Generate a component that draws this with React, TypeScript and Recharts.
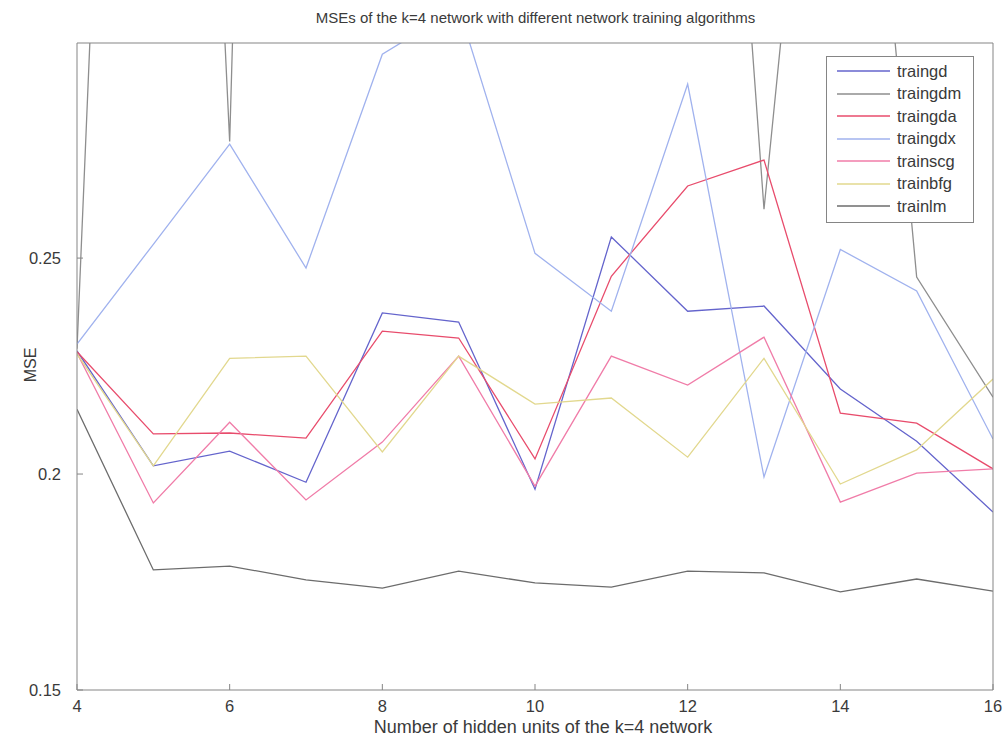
import React from "react";
import { LineChart, Line, XAxis, YAxis, Legend } from "recharts";

const hiddenUnits = [4, 5, 6, 7, 8, 9, 10, 11, 12, 13, 14, 15, 16];
const xTicks = [4, 6, 8, 10, 12, 14, 16];
const yTicks = [0.15, 0.2, 0.25];

const traingd = [0.2285, 0.2019, 0.2053, 0.1981, 0.2373, 0.2352, 0.1965, 0.2549, 0.2377, 0.2389, 0.2197, 0.2076, 0.1912];
const traingdm = [0.229, 0.65, 0.277, 0.9, 0.8, 0.7, 0.75, 0.6, 0.505, 0.2613, 0.438, 0.2456, 0.2178];
const traingda = [0.2283, 0.2093, 0.2095, 0.2083, 0.2331, 0.2315, 0.2035, 0.2458, 0.2667, 0.2727, 0.2141, 0.2118, 0.2012];
const traingdx = [0.2301, 0.2532, 0.2764, 0.2477, 0.2972, 0.308, 0.2511, 0.2377, 0.2903, 0.1993, 0.252, 0.2424, 0.2081];
const trainscg = [0.228, 0.1933, 0.212, 0.194, 0.2074, 0.2273, 0.1972, 0.2273, 0.2206, 0.2317, 0.1935, 0.2002, 0.2012];
const trainbfg = [0.2278, 0.2019, 0.2268, 0.2273, 0.2051, 0.2273, 0.2162, 0.2176, 0.2039, 0.2268, 0.1977, 0.2056, 0.222];
const trainlm = [0.215, 0.1778, 0.1787, 0.1755, 0.1736, 0.1775, 0.1748, 0.1738, 0.1775, 0.1771, 0.1727, 0.1757, 0.1729];

const seriesNames = ["traingd", "traingdm", "traingda", "traingdx", "trainscg", "trainbfg", "trainlm"];
const seriesValues = [traingd, traingdm, traingda, traingdx, trainscg, trainbfg, trainlm];
const seriesColors = ["#6464cc", "#8e8e8e", "#e84c6c", "#a0b2ee", "#f07ca8", "#e2d88e", "#6c6c6c"];

const data = hiddenUnits.map((h, i) => {
  const row: Record<string, number> = { h };
  seriesNames.forEach((n, j) => {
    row[n] = seriesValues[j][i];
  });
  return row;
});

const FONT = '"Liberation Sans", Arial, Helvetica, sans-serif';
const AXIS = "#858585";
const TEXT = "#3a3a3a";

const LegendBox = () => (
  <div
    style={{
      border: `1px solid ${AXIS}`,
      background: "#ffffff",
      width: 148,
      boxSizing: "border-box",
      padding: "3px 0 4px 0",
      fontFamily: FONT,
      fontSize: 16.5,
      color: TEXT,
    }}
  >
    {seriesNames.map((n, j) => (
      <div key={n} style={{ display: "flex", alignItems: "center", height: 22.5 }}>
        <svg width={62} height={10} style={{ marginLeft: 10 }}>
          <line x1={0} y1={5} x2={53} y2={5} stroke={seriesColors[j]} strokeWidth={1.3} />
        </svg>
        <span style={{ marginLeft: -2 }}>{n}</span>
      </div>
    ))}
  </div>
);

export default function App() {
  return (
    <div style={{ position: "absolute", left: 0, top: 0, width: 1007, height: 739, background: "#fff" }}>
      <div
        style={{
          position: "absolute",
          left: 0,
          width: 1007,
          top: 9,
          textAlign: "center",
          fontFamily: FONT,
          fontSize: 15,
          color: TEXT,
          paddingLeft: 64,
          boxSizing: "border-box",
        }}
      >
        MSEs of the k=4 network with different network training algorithms
      </div>
      <div
        style={{
          position: "absolute",
          left: 85,
          width: 916,
          top: 717,
          textAlign: "center",
          fontFamily: FONT,
          fontSize: 18,
          color: TEXT,
        }}
      >
        Number of hidden units of the k=4 network
      </div>
      <div
        style={{
          position: "absolute",
          left: 31,
          top: 365,
          transform: "translate(-50%, -50%) rotate(-90deg)",
          fontFamily: FONT,
          fontSize: 16,
          color: TEXT,
          whiteSpace: "nowrap",
        }}
      >
        MSE
      </div>
      <LineChart
        width={1007}
        height={739}
        data={data}
        margin={{ top: 42, right: 13, bottom: 48, left: 76 }}
        style={{ position: "absolute", left: 0, top: 0 }}
      >
        <XAxis
          dataKey="h"
          type="number"
          domain={[4, 16]}
          ticks={xTicks}
          height={1}
          tickSize={-6}
          tickMargin={16}
          stroke={AXIS}
          tick={{ fill: TEXT, fontSize: 16.5, fontFamily: FONT }}
          allowDataOverflow
        />
        <XAxis
          xAxisId="top"
          dataKey="h"
          type="number"
          orientation="top"
          domain={[4, 16]}
          ticks={xTicks}
          height={1}
          tickSize={-6}
          tick={false}
          stroke={AXIS}
          allowDataOverflow
        />
        <YAxis
          type="number"
          domain={[0.15, 0.2998]}
          ticks={yTicks}
          width={1}
          tickSize={-6}
          tickMargin={22}
          stroke={AXIS}
          tick={{ fill: TEXT, fontSize: 16.5, fontFamily: FONT }}
          allowDataOverflow
        />
        <YAxis
          yAxisId="right"
          type="number"
          orientation="right"
          domain={[0.15, 0.2998]}
          ticks={yTicks}
          width={1}
          tickSize={-6}
          tick={false}
          stroke={AXIS}
          allowDataOverflow
        />
        {seriesNames.map((n, j) => (
          <Line
            key={n}
            dataKey={n}
            name={n}
            stroke={seriesColors[j]}
            strokeWidth={1.3}
            dot={false}
            activeDot={false}
            isAnimationActive={false}
          />
        ))}
        <Legend
          layout="horizontal"
          verticalAlign="middle"
          align="center"
          content={<LegendBox />}
          wrapperStyle={{ left: 826, top: 56, width: 148 }}
        />
      </LineChart>
    </div>
  );
}
